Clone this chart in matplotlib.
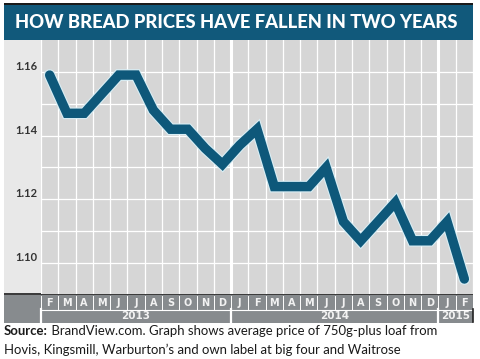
import matplotlib
matplotlib.use("Agg")
import matplotlib.pyplot as plt
import matplotlib.patheffects as pe
from matplotlib.patches import Rectangle

# average loaf price, Feb 2013 .. Feb 2015
months = ['F', 'M', 'A', 'M', 'J', 'J', 'A', 'S', 'O', 'N', 'D',
          'J', 'F', 'M', 'A', 'M', 'J', 'J', 'A', 'S', 'O', 'N', 'D',
          'J', 'F']
prices = [1.159, 1.147, 1.147, 1.153, 1.159, 1.159, 1.148, 1.142, 1.142, 1.136, 1.131,
          1.137, 1.142, 1.124, 1.124, 1.124, 1.130, 1.113, 1.107, 1.113, 1.119, 1.107, 1.107,
          1.113, 1.095]
years = ['2013', '2014', '2015']
year_spans = [(0, 11), (11, 23), (23, 25)]   # month index ranges
yticks = [1.10, 1.12, 1.14, 1.16]
title = 'HOW BREAD PRICES HAVE FALLEN IN TWO YEARS'
source_bold = 'Source:'
source_lines = [' BrandView.com. Graph shows average price of 750g-plus loaf from',
                'Hovis, Kingsmill, Warburton\u2019s and own label at big four and Waitrose']

W, H = 480, 359
fig = plt.figure(figsize=(W / 100, H / 100), dpi=100)
fig.patch.set_facecolor('white')
r = fig.canvas.get_renderer()

NAVY = '#11597b'
GREY = '#d6d6d6'
LIGHT = '#e8e8e8'
BAND = '#878b8e'


def fit_width(t, target):
    # shrink/grow a text so it spans roughly `target` pixels
    w = t.get_window_extent(r).width
    t.set_fontsize(t.get_fontsize() * target / w)


# background canvas in pixel coords (y down)
bg = fig.add_axes([0, 0, 1, 1])
bg.set_xlim(0, W)
bg.set_ylim(H, 0)
bg.axis('off')

L, R, T, B = 41, 473, 40, 294
bg.add_patch(Rectangle((4, 3), R - 4, 2, color='#1a1a1a', lw=0))
bg.add_patch(Rectangle((4, 5), R - 4, T - 5, color=NAVY, lw=0))
bg.add_patch(Rectangle((4, T), L - 4, B - T, color=LIGHT, lw=0))
bg.add_patch(Rectangle((4, B - 1), R - 4, 2, color='#3c3c3c', lw=0))
bg.add_patch(Rectangle((4, B + 1), R - 4, 28, color=BAND, lw=0))
bg.plot([L, R], [310, 310], color='white', lw=0.8)
tt = bg.text(15, 23, title, color='white', fontsize=15, fontweight='black',
             family=['Lato', 'DejaVu Sans'], ha='left', va='center')
fit_width(tt, 444)

# main chart
ax = fig.add_axes([L / W, 1 - B / H, (R - L) / W, (B - T) / H])
ax.set_facecolor(GREY)
n = len(prices)
x = list(range(n))
ax.set_xlim(-0.5, n - 0.5)
ax.set_ylim(1.0903, 1.170)
for s in ax.spines.values():
    s.set_visible(False)
ax.set_xticks([])
ax.set_yticks([])

for i in range(n + 1):
    lw = 2.2 if i in (11, 23) else 0.9
    ax.axvline(i - 0.5, color='white', lw=lw, zorder=1)
for v in [1.10, 1.11, 1.12, 1.13, 1.14, 1.15, 1.16]:
    ax.axhline(v, color='white', lw=0.9, zorder=1)

ax.plot(x, prices, color='#0e587a', lw=6.8, solid_joinstyle='miter',
        solid_capstyle='round', zorder=3,
        path_effects=[pe.withStroke(linewidth=8.4, foreground='#d8eef5')])

for v in yticks:
    ax.annotate(f'{v:.2f}', xy=(15, v), xycoords=('figure pixels', 'data'),
                xytext=(0, 4), textcoords='offset points', ha='left', va='center',
                fontsize=8, fontweight='bold', color='#333333',
                family=['Lato', 'DejaVu Sans'])

# month letters and year band (through the axes x scale, below the plot)
for i, m in enumerate(months):
    ax.annotate(m, xy=(i, 0), xycoords=('data', 'axes fraction'),
                xytext=(0, -8.5), textcoords='offset pixels', ha='center', va='center',
                fontsize=7, fontweight='bold', color='#f2f2f2', annotation_clip=False)
for i in range(n + 1):
    ax.plot([i - 0.5, i - 0.5], [-0.008, -0.060], transform=ax.get_xaxis_transform(),
            color='white', lw=0.7, clip_on=False, zorder=5)
for (a, b), yr in zip(year_spans, years):
    ax.plot([a - 0.5, a - 0.5], [-0.060, -0.110], transform=ax.get_xaxis_transform(),
            color='white', lw=1.6, clip_on=False, zorder=5)
    ax.annotate(yr, xy=((a + b - 1) / 2, 0), xycoords=('data', 'axes fraction'),
                xytext=(0, -22), textcoords='offset pixels', ha='center', va='center',
                fontsize=7.5, fontweight='bold', color='#f2f2f2', annotation_clip=False)
ax.plot([n - 0.5, n - 0.5], [-0.060, -0.110], transform=ax.get_xaxis_transform(),
        color='#222222', lw=1.2, clip_on=False, zorder=5)

# source note
sfam = ['Lato', 'DejaVu Sans']
t0 = bg.text(4, 331, source_bold, fontsize=10, fontweight='bold', color='#1a1a1a',
             family=sfam, ha='left', va='center')
t1 = bg.text(40, 331, source_lines[0], fontsize=10, color='#1a1a1a',
             family=sfam, ha='left', va='center')
t2 = bg.text(4, 350, source_lines[1], fontsize=10, color='#1a1a1a',
             family=sfam, ha='left', va='center')
w0 = t0.get_window_extent(r).width
fit_width(t1, 436 - w0)
t2.set_fontsize(t1.get_fontsize())
t0.set_fontsize(t1.get_fontsize())
w0 = t0.get_window_extent(r).width
t1.set_x(4 + w0)

fig.savefig('out.png', dpi=100)
